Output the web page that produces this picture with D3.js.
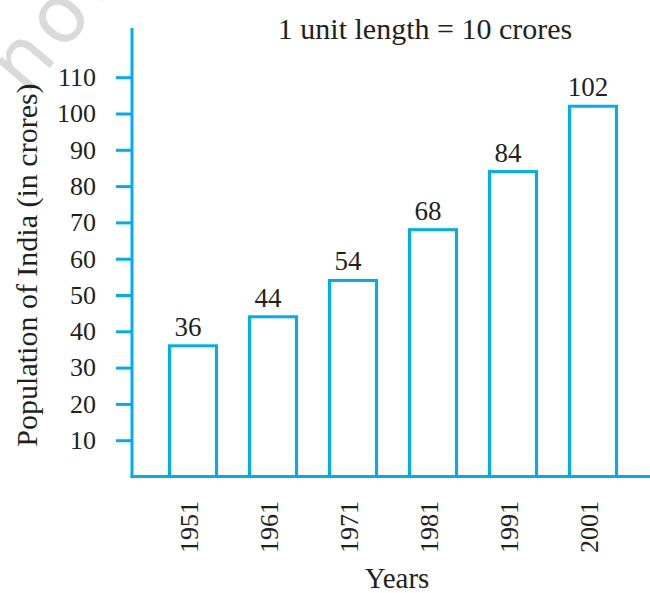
<!DOCTYPE html>
<html>
<head>
<meta charset="utf-8">
<script src="https://cdn.jsdelivr.net/npm/d3@7"></script>
<style>
  html, body { margin: 0; padding: 0; background: #fff; }
  svg { display: block; }
  text { font-family: "Liberation Serif", "Times New Roman", serif; fill: #231f20; }
</style>
</head>
<body>
<svg id="chart" width="650" height="593"></svg>
<script>
const years = ["1951", "1961", "1971", "1981", "1991", "2001"];
const population = [36, 44, 54, 68, 84, 102];
const yTicks = [10, 20, 30, 40, 50, 60, 70, 80, 90, 100, 110];
const titleText = "1 unit length = 10 crores";
const xTitle = "Years";
const yTitle = "Population of India (in crores)";
const watermark = "not to be republished";

const blue = "#00aeef";
const svg = d3.select("#chart");

// watermark
svg.append("text")
  .attr("transform", "translate(26,96) rotate(-50)")
  .style("font-family", "'DejaVu Sans', sans-serif")
  .style("font-size", "80px")
  .style("letter-spacing", "6px")
  .style("fill", "#dadada")
  .text(watermark);

const x = d3.scaleBand().domain(years).range([136, 650]).paddingInner(0.375).paddingOuter(0.4);
const y = d3.scaleLinear().domain([0, 110]).range([476.5, 476.5 - 110 * 3.63]);

const axisX0 = 132, axisY0 = y(0);

// y axis
const yAxis = svg.append("g")
  .attr("transform", `translate(${axisX0},0)`)
  .call(d3.axisLeft(y).tickValues(yTicks).tickSize(16).tickPadding(20).tickFormat(d3.format("d")));
yAxis.select(".domain").remove();
yAxis.selectAll(".tick line").attr("stroke", blue).attr("stroke-width", 3);
yAxis.selectAll(".tick text").style("font-size", "26px").attr("fill", "#231f20").style("font-family", "'Liberation Serif', serif");

// axis lines
svg.append("line").attr("x1", axisX0).attr("x2", axisX0).attr("y1", 28).attr("y2", axisY0 + 1.5)
  .attr("stroke", blue).attr("stroke-width", 3);
svg.append("line").attr("x1", axisX0 - 1.5).attr("x2", 650).attr("y1", axisY0).attr("y2", axisY0)
  .attr("stroke", blue).attr("stroke-width", 3);

// bars
const data = years.map((yr, i) => ({ year: yr, value: population[i] }));
svg.append("g").selectAll("rect").data(data).join("rect")
  .attr("x", d => x(d.year) + 1.5)
  .attr("width", x.bandwidth() - 3)
  .attr("y", d => y(d.value))
  .attr("height", d => axisY0 - y(d.value))
  .attr("fill", "none")
  .attr("stroke", blue)
  .attr("stroke-width", 3);

// value labels
svg.append("g").selectAll("text").data(data).join("text")
  .attr("x", d => x(d.year) + x.bandwidth() / 2 - 5)
  .attr("y", d => y(d.value) - 10)
  .attr("text-anchor", "middle")
  .style("font-size", "27px")
  .text(d => d.value);

// x tick labels (rotated)
svg.append("g").selectAll("text").data(years).join("text")
  .attr("transform", d => `translate(${x(d) + x.bandwidth() / 2 + 5},501) rotate(-90)`)
  .attr("text-anchor", "end")
  .style("font-size", "26px")
  .text(d => d);

// titles
svg.append("text").attr("x", 425).attr("y", 39).attr("text-anchor", "middle")
  .style("font-size", "30px").text(titleText);
svg.append("text").attr("x", 397).attr("y", 588).attr("text-anchor", "middle")
  .style("font-size", "29px").text(xTitle);
svg.append("text").attr("transform", "translate(37,265) rotate(-90)").attr("text-anchor", "middle")
  .style("font-size", "30px").text(yTitle);
</script>
</body>
</html>
